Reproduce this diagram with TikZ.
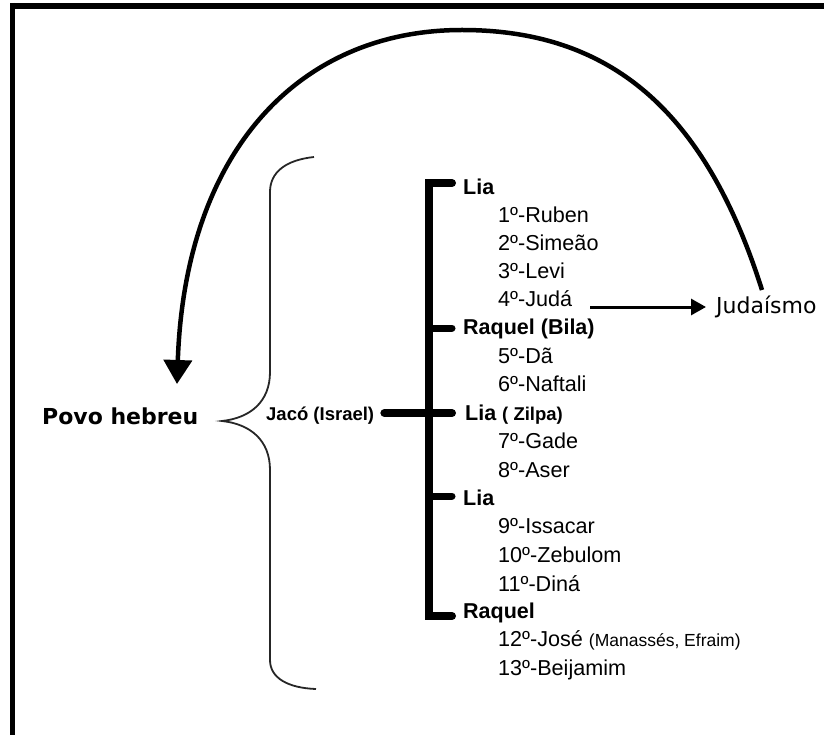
\documentclass[tikz,border=0pt]{standalone}
\usepackage{fontspec}
\setmainfont{Liberation Sans}
\newfontfamily\dejavu{DejaVu Sans}
\usetikzlibrary{arrows.meta}
\begin{document}
\begin{tikzpicture}[x=1pt,y=-1pt,
  txt/.style={inner sep=0pt, anchor=west, text height=15pt, text depth=0pt,
    font=\fontsize{21.6}{21.6}\selectfont},
  hdr/.style={inner sep=0pt, anchor=west, text height=15.5pt, text depth=0pt,
    font=\bfseries\fontsize{21.5}{21.5}\selectfont},
  barline/.style={line width=8pt, line cap=round, line join=miter},
  stub/.style={line width=7pt, line cap=round},
  bracepath/.style={line width=1.8pt, draw=black!85},
  bigarc/.style={line width=4.5pt, -{Triangle[length=24pt,width=28pt]}},
  link/.style={line width=3pt, -{Triangle[length=15pt,width=16pt]}},
  framepart/.style={line width=6pt}
]
\useasboundingbox (0,0) rectangle (824,735);

% frame
\draw[framepart] (10,6) -- (824,6);
\draw[line width=5pt] (12.5,3) -- (12.5,735);

% left labels
\node[inner sep=0pt, anchor=west, font=\dejavu\bfseries\fontsize{22}{22}\selectfont]
  (povo) at (42,416) {Povo hebreu};
\node[inner sep=0pt, anchor=west, text height=14pt, text depth=0pt,
  font=\bfseries\fontsize{18.5}{18.5}\selectfont] (jaco) at (266,413) {Jacó (Israel)};

% brace
\draw[bracepath] (314,157) .. controls (286,160) and (270,172) .. (270,192)
  -- (270,372) .. controls (270,402) and (250,418) .. (222,421)
  .. controls (250,424) and (270,440) .. (270,470)
  -- (270,660) .. controls (270,678) and (288,688) .. (316,689);

% headers
\node[hdr] (lia1) at (463,187) {Lia};
\node[hdr] (raq1) at (463,327) {Raquel (Bila)};
\node[hdr] (lia2) at (465,413) {Lia {\fontsize{18.5}{18.5}\selectfont( Zilpa)}};
\node[hdr] (lia3) at (463,498) {Lia};
\node[hdr] (raq2) at (463,611) {Raquel};

% sons
\node[txt] (s1)  at (498,215) {1º-Ruben};
\node[txt] (s2)  at (498,243) {2º-Simeão};
\node[txt] (s3)  at (498,271) {3º-Levi};
\node[txt] (s4)  at (498,299) {4º-Judá};
\node[txt] (s5)  at (498,356) {5º-Dã};
\node[txt] (s6)  at (498,384) {6º-Naftali};
\node[txt] (s7)  at (498,441) {7º-Gade};
\node[txt] (s8)  at (498,470) {8º-Aser};
\node[txt] (s9)  at (498,526) {9º-Issacar};
\node[txt] (s10) at (498,555) {10º-Zebulom};
\node[txt] (s11) at (498,584) {11º-Diná};
\node[txt] (s12) at (498,639) {12º-José {\fontsize{17.5}{17.5}\selectfont(Manassés, Efraim)}};
\node[txt] (s13) at (498,668) {13º-Beijamim};

\node[inner sep=0pt, anchor=west, text height=16pt, text depth=0pt,
  font=\dejavu\fontsize{22}{22}\selectfont] (judaismo) at (716,305) {Judaísmo};

% bracket of the mothers
\coordinate (barx) at (429,0);
\draw[barline] ([xshift=-11pt]lia1.west |- 0,183) -- (barx |- 0,183)
  -- (barx |- 0,616) -- ([xshift=-11pt]raq2.west |- 0,616);
\draw[stub] (barx |- 0,328) -- ([xshift=-11pt]raq1.west |- 0,328);
\draw[stub] (barx |- 0,496) -- ([xshift=-11pt]lia3.west |- 0,496);
\draw[barline, line cap=round] ([xshift=10pt]jaco.east) -- ([xshift=-13pt]lia2.west);

% Judah leads to Judaism
\coordinate (ja) at (590,307);
\coordinate (jb) at (706,307);
\draw[link] (ja) -- (jb);

% great arc back to the Hebrew people
\coordinate (arcstart) at (762,290);
\coordinate (arctop) at (462,30);
\coordinate (tip) at (177,384);
\draw[bigarc] (arcstart) .. controls (705,110) and (610,30) .. (arctop)
  .. controls (300,30) and (185,150) .. (tip);
\end{tikzpicture}
\end{document}
